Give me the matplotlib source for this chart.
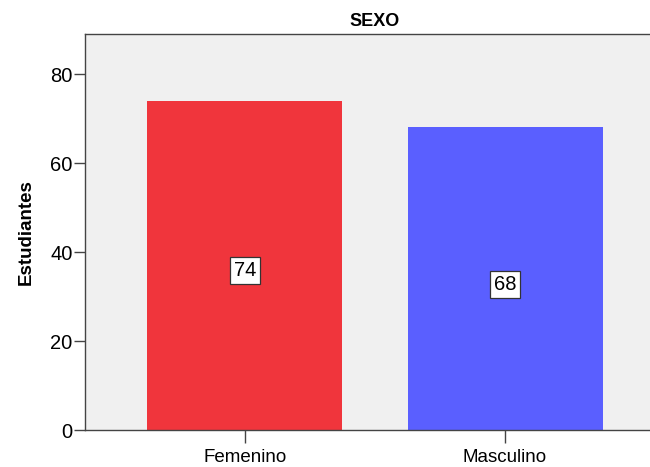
import matplotlib
matplotlib.use('Agg')
import matplotlib.pyplot as plt

plt.rcParams['font.family'] = ['Liberation Sans', 'DejaVu Sans']

# datos
categorias = ['Femenino', 'Masculino']
estudiantes = [74, 68]
colores = ['#f0353c', '#5a5fff']

fig = plt.figure(figsize=(6.5, 4.67), dpi=100)
ax = fig.add_axes([85 / 650, (467 - 430) / 467, 580 / 650, 396 / 467])
ax.set_facecolor('#f0f0f0')

x = range(len(categorias))
ax.bar(x, estudiantes, width=0.75, color=colores, edgecolor='none', zorder=2)

for xi, v in zip(x, estudiantes):
    ax.annotate(str(v), (xi, v / 2), xytext=(0, -4), textcoords='offset points',
                ha='center', va='center', fontsize=14.5,
                bbox=dict(boxstyle='square,pad=0.2', facecolor='white',
                          edgecolor='#333333', linewidth=0.9), zorder=3)

ax.set_xlim(-0.615, 1.615)
ax.set_ylim(0, 89)
ax.set_xticks(list(x))
ax.set_xticklabels(categorias, fontsize=13.5)
ax.set_yticks([0, 20, 40, 60, 80])
ax.tick_params(axis='y', labelsize=14.5, length=8, width=1, color='#444444', pad=1)
ax.tick_params(axis='x', length=9, width=1, color='#444444', pad=5)

for s in ['left', 'bottom', 'top']:
    ax.spines[s].set_color('#444444')
    ax.spines[s].set_linewidth(1)
ax.spines['right'].set_visible(False)

ax.set_ylabel('Estudiantes', fontsize=13.5, fontweight='bold', labelpad=11)
ax.set_title('SEXO', fontsize=13, fontweight='bold', pad=6)

fig.savefig('out.png', dpi=100)
